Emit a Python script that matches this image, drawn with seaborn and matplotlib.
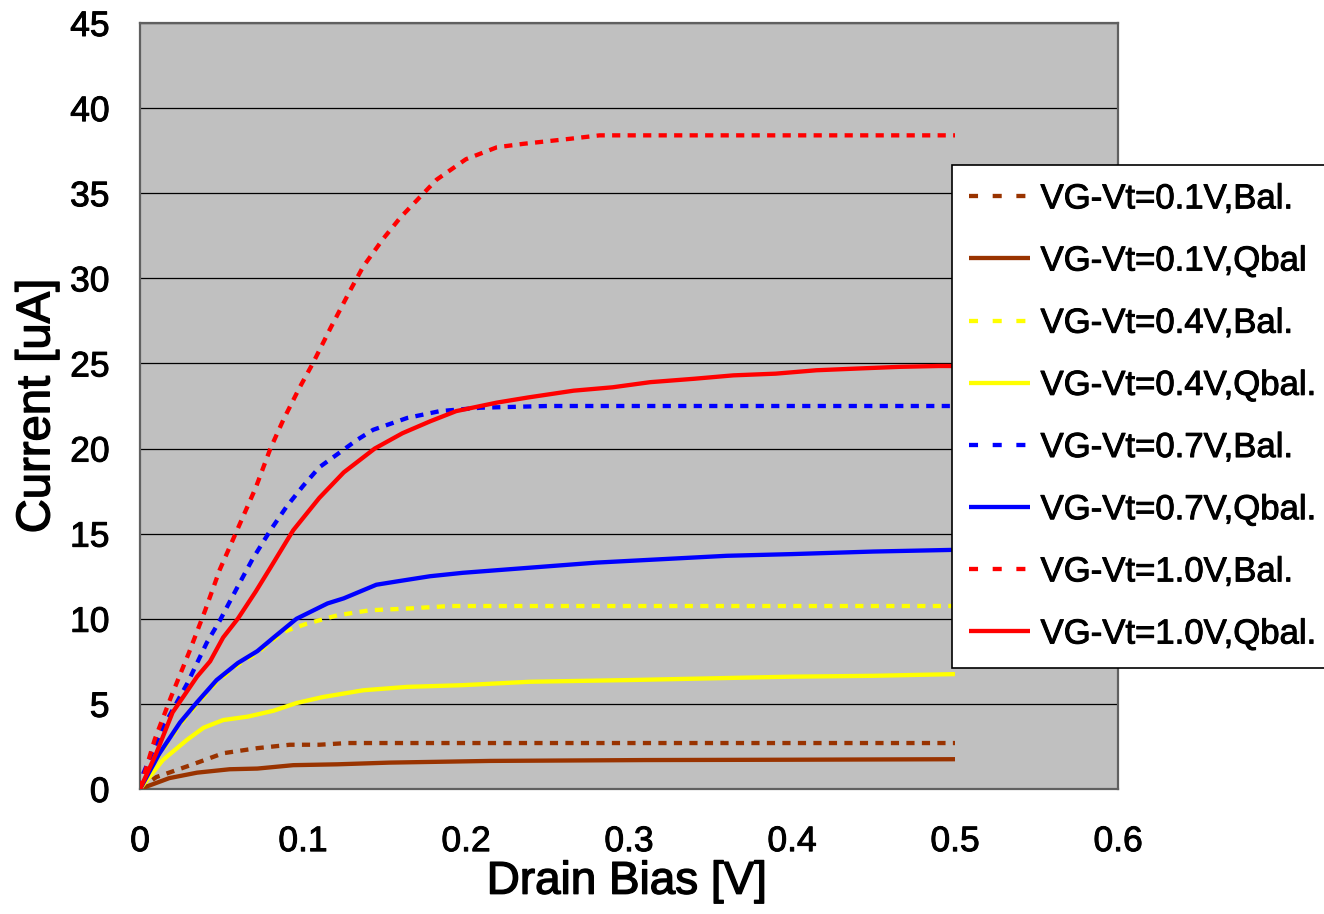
import matplotlib
matplotlib.use("Agg")
import matplotlib.pyplot as plt
import matplotlib.patheffects as pe
import seaborn as sns
import pandas as pd

# Drain current vs. drain bias for ballistic (Bal.) and quasi-ballistic (Qbal.) transport
x_01_bal = [0, 0.010, 0.031, 0.051, 0.072, 0.092, 0.110, 0.127, 0.2, 0.3, 0.4, 0.5]
y_01_bal = [0, 0.7, 1.4, 2.1, 2.4, 2.6, 2.6, 2.7, 2.7, 2.7, 2.7, 2.7]

x_01_qbal = [0, 0.018, 0.035, 0.055, 0.072, 0.094, 0.121, 0.153, 0.215, 0.31, 0.4, 0.5]
y_01_qbal = [0, 0.64, 0.96, 1.16, 1.2, 1.4, 1.45, 1.55, 1.65, 1.7, 1.72, 1.75]

x_04_bal = [0, 0.012, 0.0245, 0.035, 0.047, 0.060, 0.072, 0.082, 0.090, 0.102,
            0.121, 0.141, 0.164, 0.190, 0.25, 0.3, 0.4, 0.5]
y_04_bal = [0, 2.0, 3.8, 5.0, 6.3, 7.3, 8.0, 8.8, 9.3, 9.7,
            10.2, 10.5, 10.6, 10.75, 10.75, 10.75, 10.75, 10.75]

x_04_qbal = [0, 0.014, 0.029, 0.039, 0.051, 0.066, 0.082, 0.096, 0.112, 0.137,
             0.164, 0.198, 0.239, 0.3, 0.35, 0.4, 0.45, 0.5]
y_04_qbal = [0, 1.7, 2.9, 3.6, 4.05, 4.25, 4.6, 5.05, 5.4, 5.8,
             6.0, 6.1, 6.3, 6.4, 6.5, 6.6, 6.65, 6.75]

x_07_bal = [0, 0.002, 0.014, 0.029, 0.041, 0.049, 0.060, 0.069, 0.080, 0.090,
            0.100, 0.110, 0.123, 0.133, 0.143, 0.164, 0.184, 0.209, 0.25, 0.3,
            0.35, 0.4, 0.45, 0.5]
y_07_bal = [0, 0.9, 3.6, 6.2, 8.6, 9.9, 11.9, 13.5, 15.2, 16.6,
            17.8, 18.9, 19.8, 20.5, 21.1, 21.8, 22.2, 22.4, 22.5, 22.5,
            22.5, 22.5, 22.5, 22.5]

x_07_qbal = [0, 0.012, 0.0245, 0.035, 0.047, 0.060, 0.072, 0.082, 0.096, 0.115,
             0.125, 0.145, 0.158, 0.178, 0.198, 0.239, 0.28, 0.32, 0.36, 0.40,
             0.45, 0.5]
y_07_qbal = [0, 2.1, 3.9, 5.1, 6.4, 7.4, 8.1, 8.9, 10.0, 10.9,
             11.2, 12.0, 12.2, 12.5, 12.7, 13.0, 13.3, 13.5, 13.7, 13.8,
             13.95, 14.05]

x_10_bal = [0, 0.009, 0.019, 0.030, 0.040, 0.049, 0.060, 0.071, 0.080, 0.088,
            0.098, 0.106, 0.117, 0.129, 0.137, 0.149, 0.160, 0.172, 0.182, 0.200,
            0.219, 0.235, 0.264, 0.282, 0.30, 0.35, 0.40, 0.45, 0.50]
y_10_bal = [0, 2.9, 5.4, 8.0, 10.5, 12.9, 15.3, 17.7, 20.0, 21.7,
            23.6, 25.0, 27.1, 29.3, 30.7, 32.3, 33.6, 34.8, 35.8, 37.0,
            37.7, 37.9, 38.2, 38.4, 38.4, 38.4, 38.4, 38.4, 38.4]

x_10_qbal = [0, 0.010, 0.020, 0.035, 0.043, 0.051, 0.060, 0.071, 0.080, 0.094,
             0.110, 0.125, 0.144, 0.161, 0.178, 0.194, 0.219, 0.238, 0.266, 0.290,
             0.313, 0.340, 0.364, 0.390, 0.415, 0.440, 0.466, 0.490, 0.5]
y_10_qbal = [0, 2.1, 4.5, 6.6, 7.5, 8.9, 10.0, 11.6, 13.0, 15.2,
             17.1, 18.6, 20.0, 20.9, 21.6, 22.2, 22.7, 23.0, 23.4, 23.6,
             23.9, 24.1, 24.3, 24.4, 24.6, 24.7, 24.8, 24.85, 24.85]

labels = ["VG-Vt=0.1V,Bal.", "VG-Vt=0.1V,Qbal",
          "VG-Vt=0.4V,Bal.", "VG-Vt=0.4V,Qbal.",
          "VG-Vt=0.7V,Bal.", "VG-Vt=0.7V,Qbal.",
          "VG-Vt=1.0V,Bal.", "VG-Vt=1.0V,Qbal."]
colors = ["#993300", "#993300", "#FFFF00", "#FFFF00",
          "#0000FF", "#0000FF", "#FF0000", "#FF0000"]
dashed = [True, False, True, False, True, False, True, False]
xs = [x_01_bal, x_01_qbal, x_04_bal, x_04_qbal, x_07_bal, x_07_qbal, x_10_bal, x_10_qbal]
ys = [y_01_bal, y_01_qbal, y_04_bal, y_04_qbal, y_07_bal, y_07_qbal, y_10_bal, y_10_qbal]

x_ticks = [0, 0.1, 0.2, 0.3, 0.4, 0.5, 0.6]
x_tick_labels = ["0", "0.1", "0.2", "0.3", "0.4", "0.5", "0.6"]
y_ticks = [0, 5, 10, 15, 20, 25, 30, 35, 40, 45]

sns.set_style("white")
plt.rcParams["font.family"] = ["Liberation Sans", "DejaVu Sans"]
plt.rcParams["text.color"] = "black"
plt.rcParams["axes.labelcolor"] = "black"

heavy = [pe.withStroke(linewidth=0.7, foreground="black")]
heavier = [pe.withStroke(linewidth=1.0, foreground="black")]

fig = plt.figure(figsize=(13.24, 9.14), dpi=100)
ax = fig.add_axes([140 / 1324, 1 - 789 / 914, 978 / 1324, 766 / 914])
ax.set_facecolor("#C0C0C0")

LW = 3.1
for xv, yv, lab, col, dsh in zip(xs, ys, labels, colors, dashed):
    df = pd.DataFrame({"bias": xv, "current": yv})
    sns.lineplot(data=df, x="bias", y="current", ax=ax, color=col, lw=LW,
                 estimator=None, sort=False, legend=False)
    line = ax.lines[-1]
    line.set_label(lab)
    line.set_solid_capstyle("butt")
    line.set_dash_capstyle("butt")
    if dsh:
        line.set_dashes((1.9, 1.7))
    line.set_zorder(3)

ax.set_xlim(0, 0.6)
ax.set_ylim(0, 45)
ax.set_xticks(x_ticks)
ax.set_xticklabels(x_tick_labels)
ax.set_yticks(y_ticks)
ax.yaxis.grid(True, color="black", lw=0.9)
ax.xaxis.grid(False)
ax.set_axisbelow(True)

for sp in ax.spines.values():
    sp.set_visible(True)
    sp.set_color("#606060")
    sp.set_linewidth(1.6)

ax.tick_params(axis="both", direction="in", length=8.5, width=1.2,
               color="#404040", labelsize=25.5, pad=22, labelcolor="black")
ax.tick_params(axis="x", pad=26)
for t in ax.get_xticklabels() + ax.get_yticklabels():
    t.set_path_effects(heavy)

ax.set_xlabel("Drain Bias [V]", fontsize=33, va="center", color="black")
ax.set_ylabel("Current [uA]", fontsize=34, va="center", color="black")
ax.xaxis.set_label_coords(0.498, -0.121)
ax.yaxis.set_label_coords(-0.105, 0.5)
ax.xaxis.label.set_path_effects(heavier)
ax.yaxis.label.set_path_effects(heavier)

handles = ax.lines[:8]
leg = ax.legend(handles=handles, labels=labels, loc="upper left",
                bbox_to_anchor=(952 / 1324, 1 - 165 / 914),
                bbox_transform=fig.transFigure, borderaxespad=0,
                fontsize=25, frameon=True, fancybox=False,
                handlelength=1.75, handletextpad=0.3, labelspacing=0.84,
                borderpad=0.5)
frame = leg.get_frame()
frame.set_edgecolor("black")
frame.set_linewidth(1.2)
frame.set_facecolor("white")
frame.set_alpha(1)
leg.set_zorder(10)
for t in leg.get_texts():
    t.set_color("black")
    t.set_path_effects(heavy)
for lh, dsh in zip(leg.get_lines(), dashed):
    if dsh:
        lh.set_dashes((2.1, 3.4))

fig.savefig("out.png", dpi=100)
